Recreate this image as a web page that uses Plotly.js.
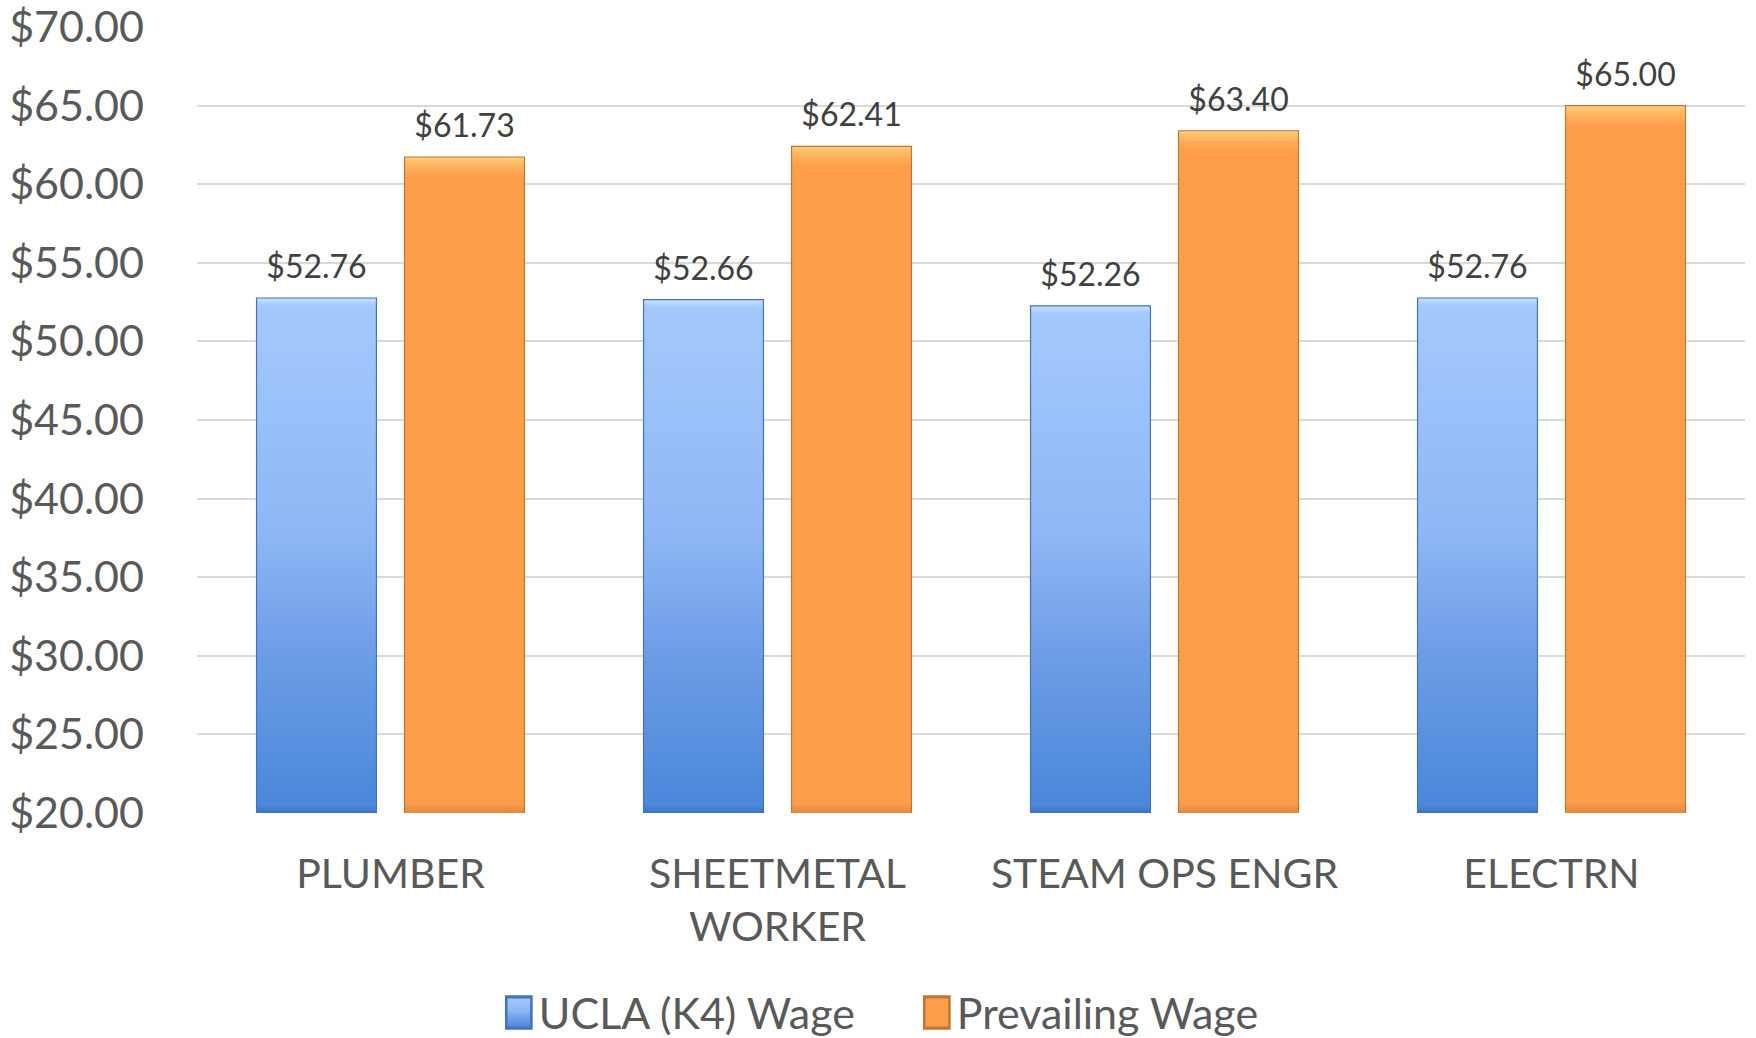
<!DOCTYPE html>
<html><head><meta charset="utf-8">
<script src="https://cdn.plot.ly/plotly-3.0.1.min.js"></script>
<style>html,body{margin:0;padding:0;background:#fff}#chart{width:1756px;height:1038px}</style>
</head><body><div id="chart"></div>
<script>
const categories = ['PLUMBER', 'SHEETMETAL<br>WORKER', 'STEAM OPS ENGR', 'ELECTRN'];
const uclaWage = [52.76, 52.66, 52.26, 52.76];
const prevailingWage = [61.73, 62.41, 63.40, 65.00];
const seriesNames = ['UCLA (K4) Wage', 'Prevailing Wage'];

const FONT = 'Lato, "Open Sans", sans-serif';
const fmt = v => '$' + v.toFixed(2);

const traces = [
  {type:'bar', name:seriesNames[0], x:categories, y:uclaWage,
   marker:{color:'#7aaaf0', line:{color:'#4572b8', width:1.2}},
   text:uclaWage.map(fmt), textposition:'outside', cliponaxis:false,
   textfont:{family:FONT, size:32, color:'#404040'}},
  {type:'bar', name:seriesNames[1], x:categories, y:prevailingWage,
   marker:{color:'#fd9e4b', line:{color:'#c27434', width:1.2}},
   text:prevailingWage.map(fmt), textposition:'outside', cliponaxis:false,
   textfont:{family:FONT, size:32, color:'#404040'}}
];

const layout = {
  width:1756, height:1038,
  margin:{l:197, r:11, t:27, b:225, autoexpand:false},
  paper_bgcolor:'#fff', plot_bgcolor:'#fff',
  font:{family:FONT, color:'#595959'},
  barmode:'group', bargap:0.235, bargroupgap:0.19,
  showlegend:true,
  legend:{orientation:'h', x:0.465, xanchor:'center', y:-0.21, yanchor:'top',
          font:{family:FONT, size:43, color:'#595959'},
          entrywidth:373, entrywidthmode:'pixels'},
  xaxis:{type:'category', showgrid:false, zeroline:false, showline:false,
         ticks:'', tickfont:{family:FONT, size:41, color:'#595959'}, ticklabelstandoff:33},
  yaxis:{range:[20,70], dtick:5, tick0:20, tickprefix:'$', tickformat:'.2f',
         showgrid:true, gridcolor:'#d9d9d9', gridwidth:2, zeroline:false,
         showline:false, ticks:'', ticklabelstandoff:52,
         tickfont:{family:FONT, size:43, color:'#595959'}}
};

Plotly.newPlot('chart', traces, layout, {staticPlot:true}).then(gd => {
  const svg = gd.querySelector('svg.main-svg');
  const ns = 'http://www.w3.org/2000/svg';
  const defs = svg.querySelector('defs');
  const mk = (id, stops, f) => {
    const g = document.createElementNS(ns, 'linearGradient');
    g.setAttribute('id', id); g.setAttribute('x1','0'); g.setAttribute('y1','0');
    g.setAttribute('x2','0'); g.setAttribute('y2','1');
    stops.forEach(([o,c]) => {
      const s = document.createElementNS(ns, 'stop');
      s.setAttribute('offset', Math.min(1, o * f)); s.setAttribute('stop-color', c);
      g.appendChild(s);
    });
    defs.appendChild(g);
  };
  const blueStops = [[0,'#c9e2ff'],[0.015,'#a3c9fb'],[0.45,'#8fb7f5'],[0.7,'#6c9ce6'],[0.985,'#4a88da'],[1,'#3d72bd']];
  const orangeStops = [[0,'#ffd080'],[0.012,'#ffb560'],[0.03,'#fd9e4b'],[0.985,'#fd9e4b'],[1,'#e08a3c']];
  const stopsets = [blueStops, orangeStops];
  const sz = gd._fullLayout._size;
  const plotBottom = sz.h; // in plot-area coords
  gd.querySelectorAll('.barlayer .trace').forEach((t, i) => {
    t.querySelectorAll('.point path').forEach((p, j) => {
      const bb = p.getBBox();
      const f = bb.height > 0 ? Math.max(0.01, Math.min(1, (plotBottom - bb.y) / bb.height)) : 1;
      const id = 'g' + i + '_' + j;
      mk(id, stopsets[i], f);
      p.style.fill = 'url(#' + id + ')';
    });
    t.querySelectorAll('.point text').forEach(tx => {
      const tr = tx.getAttribute('transform') || '';
      tx.setAttribute('transform', 'translate(0,-10) ' + tr);
    });
  });
  gd.querySelectorAll('.legend .traces').forEach((t, i) => {
    const id = 'leg' + i;
    mk(id, stopsets[i], 1);
    t.querySelectorAll('.legendpoints path').forEach(p => {
      p.style.fill = 'url(#' + id + ')';
      const tr = p.getAttribute('transform') || '';
      p.setAttribute('transform', tr + ' scale(2.1,2.6)');
    });
  });
});
</script></body></html>
